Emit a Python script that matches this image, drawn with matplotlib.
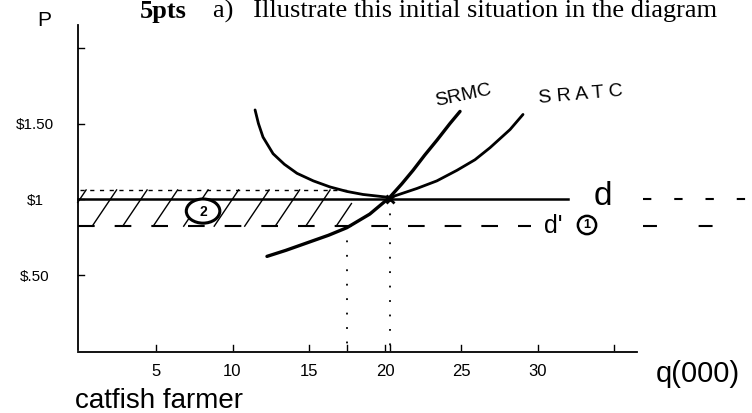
import numpy as np
import matplotlib.pyplot as plt
from matplotlib.patches import Ellipse

# axis ticks and labels
q_ticks = [5, 10, 15, 20, 25, 30, 35]
q_tick_labels = ['5', '10', '15', '20', '25', '30', '']
p_ticks = [0.5, 1.0, 1.5, 2.0]
p_tick_labels = ['$.50', '$1', '$1.50', '']

# short-run cost curves (q in thousands, p in $)
srmc_q = [12.26, 13.5, 14.9, 16.3, 17.5, 19.0, 20.3, 21.1, 21.84, 22.6, 23.41, 24.26, 24.92]
srmc_p = [0.62, 0.66, 0.71, 0.76, 0.81, 0.90, 1.01, 1.10, 1.19, 1.29, 1.39, 1.50, 1.58]
sratc_q = [11.48, 11.7, 12.0, 12.66, 13.4, 14.23, 15.3, 16.39, 17.5, 18.56, 20.33,
           22.1, 23.4, 24.72, 25.9, 26.89, 28.2, 29.05]
sratc_p = [1.59, 1.50, 1.41, 1.30, 1.23, 1.17, 1.12, 1.08, 1.05, 1.03, 1.01,
           1.07, 1.12, 1.19, 1.26, 1.34, 1.46, 1.56]

# demand lines and the loss area
price_d = 1.0
price_d2 = 0.82
loss_top = 1.06
q_d2 = 17.5
q_d = 20.3
d_end = 32.0
d2_end = 29.6
loss_end = 17.8

# pixel layout of the sheet
W, H = 752, 413
X0, SX = 80, 15.25
Y0, SY = 350, 151

fig = plt.figure(figsize=(W / 100, H / 100), dpi=100)
ax = fig.add_axes([0, 0, 1, 1])
ax.set_xlim(-X0 / SX, (W - X0) / SX)
ax.set_ylim((Y0 - H) / SY, Y0 / SY)
ax.axis('off')

def ftext(x, y, s, **kw):
    # place text by pixel position on the sheet
    fig.text(x / W, 1 - y / H, s, **kw)

hand = dict(family='Liberation Sans', color='black')

# axes
ax.plot([-0.15, -0.15], [0, 2.15], color='black', lw=1.3)
ax.plot([-0.15, 36.5], [-0.01, -0.01], color='black', lw=1.3)
for q in q_ticks + [q_d2, q_d]:
    ax.plot([q, q], [0, 0.03], color='black', lw=1)
for p in p_ticks:
    ax.plot([-0.15, 0.25], [p, p], color='black', lw=1)

for q, lab in zip(q_ticks, q_tick_labels):
    ftext(X0 + q * SX, 371, lab, ha='center', va='center', fontsize=12, **hand)
for p, lab in zip(p_ticks, p_tick_labels):
    ftext(35, Y0 - p * SY + 2, lab, ha='center', va='center', fontsize=11, **hand)

# loss area hatching
ax.plot([0, loss_end], [loss_top, loss_top], color='black', lw=1, ls=(0, (3, 4)))
for s in np.arange(-1.2, loss_end - 0.5, 2.0):
    x_lo = max(s, -0.15)
    y_lo = price_d2 + (x_lo - s) * (loss_top - price_d2) / 1.6
    ax.plot([x_lo, min(s + 1.6, loss_end)],
            [y_lo, price_d2 + (min(s + 1.6, loss_end) - s) * (loss_top - price_d2) / 1.6],
            color='black', lw=1)

# demand d (solid) and d' (dashed)
ax.plot([-0.15, d_end], [price_d, price_d], color='black', lw=1.8)
ax.plot([36.9, 44.5], [price_d, price_d], color='black', lw=1.5, ls=(0, (4, 11)))
ax.plot([-0.15, d2_end], [price_d2, price_d2], color='black', lw=1.5, ls=(0, (8, 9.6)))
ax.plot([36.9, 44.5], [price_d2, price_d2], color='black', lw=1.5, ls=(0, (6.7, 20)))

# cost curves
ax.plot(sratc_q, sratc_p, color='black', lw=2, solid_capstyle='round')
ax.plot(srmc_q, srmc_p, color='black', lw=2.4, solid_capstyle='round')
ax.plot([q_d], [price_d], marker='x', color='black', ms=6, mew=2)

# dotted drop lines to the q axis
ax.plot([q_d2, q_d2], [price_d2, 0], color='black', lw=1.3, ls=(0, (1, 7)))
ax.plot([q_d, q_d], [price_d, 0], color='black', lw=1.3, ls=(0, (1, 7)))

# circled area marker (2) inside the hatched loss area
ax.add_patch(Ellipse((8.07, 0.92), 2.2, 0.16, fc='white', ec='black', lw=2.2, zorder=3))
ax.text(8.07, 0.915, '2', ha='center', va='center', fontsize=10, fontweight='bold',
        zorder=4, **hand)

# labels
ftext(463, 96, 'SRMC', ha='center', va='center', fontsize=14, rotation=12, **hand)
ftext(581, 95, 'S R A T C', ha='center', va='center', fontsize=14, rotation=5, **hand)
ftext(603, 196, 'd', ha='center', va='center', fontsize=24, **hand)
ftext(553, 226, "d'", ha='center', va='center', fontsize=18, **hand)
ftext(587, 225, '1', ha='center', va='center', fontsize=9, fontweight='bold',
      bbox=dict(boxstyle='circle,pad=0.25', fc='none', ec='black', lw=1.8), **hand)
ftext(44, 20, 'P', ha='center', va='center', fontsize=15, **hand)
ftext(698, 374, 'q(000)', ha='center', va='center', fontsize=21, **hand)
ftext(75, 401, 'catfish farmer', ha='left', va='center', fontsize=20, **hand)

# question header
ftext(140, 18, '5pts', ha='left', va='baseline', fontsize=19,
      family='Liberation Serif', fontweight='bold')
ftext(213, 18, 'a)   Illustrate this initial situation in the diagram',
      ha='left', va='baseline', fontsize=19, family='Liberation Serif')

fig.savefig('out.png', dpi=100, facecolor='white')
